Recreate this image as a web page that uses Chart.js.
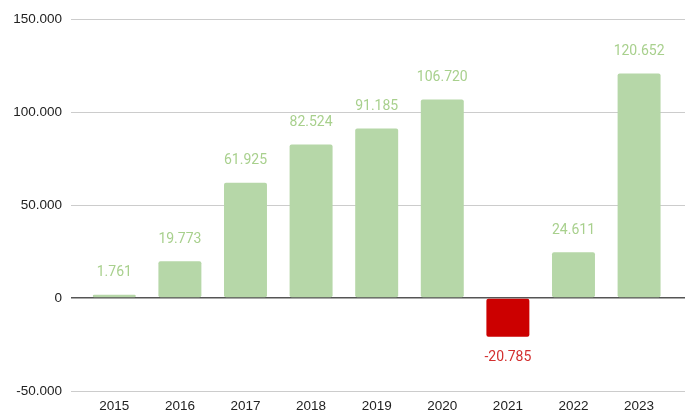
<!DOCTYPE html>
<html>
<head>
<meta charset="utf-8">
<script src="https://cdn.jsdelivr.net/npm/chart.js@4/dist/chart.umd.min.js"></script>
<style>
  html, body { margin: 0; padding: 0; background: #ffffff; }
  #wrap { width: 690px; height: 418px; }
</style>
</head>
<body>
<div id="wrap"><canvas id="grafica"></canvas></div>
<script>
// Data:
const years = ["2015", "2016", "2017", "2018", "2019", "2020", "2021", "2022", "2023"];
const values = [1761, 19773, 61925, 82524, 91185, 106720, -20785, 24611, 120652];
const yTicks = [-50000, 0, 50000, 100000, 150000];

const GREEN = "#b6d7a8";
const RED = "#cc0000";

// Format with dot thousands:
function formatNum(v)
{
    const s = Math.abs(v).toString().replace(/\B(?=(\d{3})+(?!\d))/g, ".");
    return (v < 0 ? "-" : "") + s;
}

// Labels over the bars:
const valueLabels = {
    id: "valueLabels",
    afterDatasetsDraw: function (chart)
    {
        const ctx = chart.ctx;
        const meta = chart.getDatasetMeta(0);
        ctx.save();
        ctx.font = "14px Roboto";
        ctx.textAlign = "center";
        ctx.textBaseline = "middle";
        meta.data.forEach(function (bar, i) {
            const v = values[i];
            ctx.fillStyle = v < 0 ? "#d32f2f" : "#a8d08d";
            const y = v < 0 ? bar.y + 21 : bar.y - 22;
            ctx.fillText(formatNum(v), bar.x, y);
        });
        ctx.restore();
    }
};

const ctx = document.getElementById("grafica").getContext("2d");
const chart = new Chart(ctx, {
    type: "bar",
    data: {
        datasets: [{
            data: values.map(function (v, i) { return { x: i, y: v }; }),
            backgroundColor: values.map(function (v) { return v < 0 ? RED : GREEN; }),
            borderRadius: 2,
            borderSkipped: false,
            barPercentage: 0.655,
            categoryPercentage: 1
        }]
    },
    options: {
        responsive: true,
        maintainAspectRatio: false,
        animation: false,
        layout: { padding: { top: 19, right: 5, left: 0, bottom: 0 } },
        plugins: {
            legend: { display: false },
            tooltip: { enabled: false }
        },
        scales: {
            x: {
                type: "linear",
                min: -0.66,
                max: 8.7,
                offset: false,
                bounds: "data",
                afterBuildTicks: function (axis) {
                    axis.ticks = years.map(function (y, i) { return { value: i }; });
                },
                afterFit: function (axis) { axis.height = 27; },
                grid: { display: false, drawTicks: false },
                border: { display: false },
                ticks: {
                    color: "#222",
                    font: { family: "Liberation Sans", size: 13.5 },
                    padding: 7,
                    autoSkip: false,
                    maxRotation: 0,
                    callback: function (v) { return years[v]; }
                }
            },
            y: {
                min: -50000,
                max: 150000,
                afterBuildTicks: function (axis) {
                    axis.ticks = yTicks.map(function (v) { return { value: v }; });
                },
                afterFit: function (axis) { axis.width = 71; },
                border: { display: false },
                grid: {
                    drawTicks: false,
                    color: function (c) { return c.tick && c.tick.value === 0 ? "#555555" : "#cccccc"; },
                    lineWidth: function (c) { return c.tick && c.tick.value === 0 ? 1.5 : 1; }
                },
                ticks: {
                    color: "#222",
                    font: { family: "Liberation Sans", size: 13.5 },
                    padding: 9,
                    callback: function (v) { return formatNum(v); }
                }
            }
        }
    },
    plugins: [valueLabels]
});
</script>
</body>
</html>
